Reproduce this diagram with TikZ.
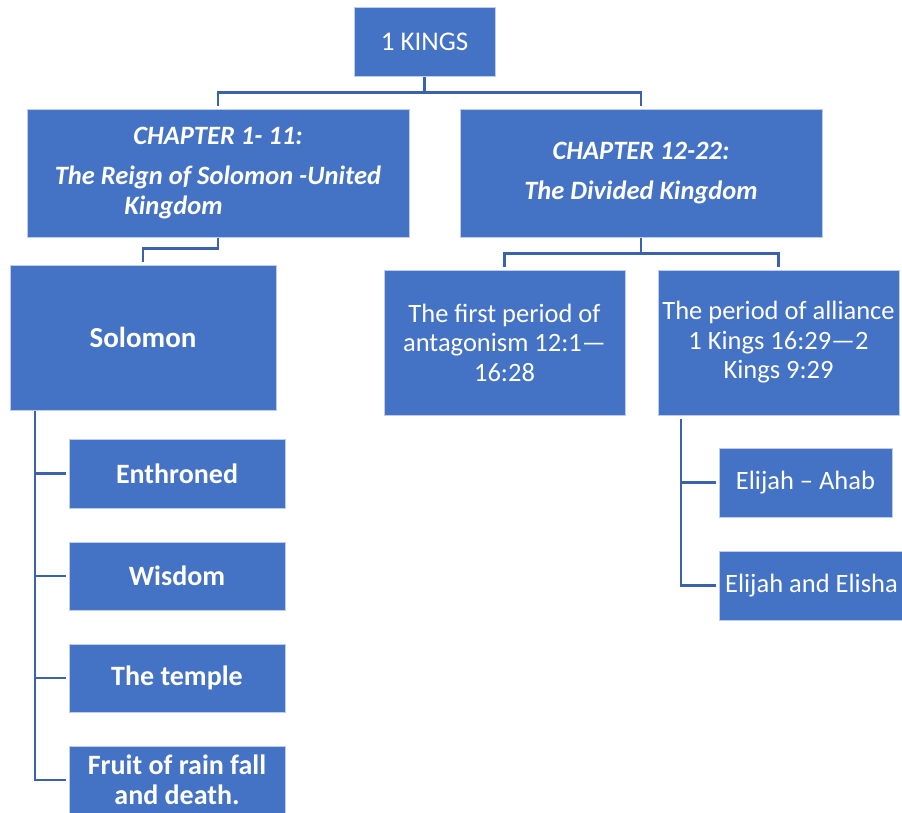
\documentclass[tikz,border=0pt]{standalone}
\usepackage{fontspec}
\setmainfont{Carlito}
\definecolor{boxblue}{HTML}{4472C4}
\definecolor{linkblue}{HTML}{3B63AC}
\tikzset{
  bx/.style={fill=boxblue, draw=boxblue!35!white, line width=0.8pt, inner sep=0pt,
    text=white, align=center, anchor=center},
  reg/.style={font=\fontsize{26.5}{29.5}\selectfont},
  bld/.style={font=\fontsize{28}{30}\selectfont\bfseries},
  chap/.style={font=\fontsize{26.5}{30}\selectfont\bfseries\itshape},
  link/.style={draw=linkblue, line width=2.6pt}
}
\begin{document}
\begin{tikzpicture}[x=1pt, y=-1pt]
\clip (0,0) rectangle (902,812);
\fill[white] (0,0) rectangle (902,812);

\node[bx, font=\fontsize{27}{30}\selectfont, minimum width=141pt, minimum height=69pt] (kings) at (424.5,41.5) {1 KINGS};
\node[bx, chap, minimum width=382pt, minimum height=128pt] (ch1) at (218,173)
  {CHAPTER 1- 11:\\[10pt]The Reign of Solomon -United\\\mbox{Kingdom\kern89pt}};
\node[bx, chap, minimum width=362pt, minimum height=128pt] (ch2) at (641,173)
  {CHAPTER 12-22:\\[10pt]The Divided Kingdom};
\node[bx, font=\fontsize{29}{32}\selectfont\bfseries, minimum width=266pt, minimum height=145pt] (sol) at (143,337.5) {Solomon};
\node[bx, reg, minimum width=241pt, minimum height=145pt] (first) at (504.5,342.5)
  {The first period of\\antagonism 12:1—\\16:28};
\node[bx, reg, minimum width=241pt, minimum height=145pt] (alli) at (778.5,342.5)
  {The period of alliance\\1 Kings 16:29—2\\Kings 9:29};
\node[bx, bld, minimum width=216pt, minimum height=69pt] (ent) at (177,473.5) {Enthroned};
\node[bx, bld, minimum width=216pt, minimum height=68pt] (wis) at (177,576) {Wisdom};
\node[bx, bld, minimum width=216pt, minimum height=68pt] (tem) at (177,678) {The temple};
\node[bx, bld, minimum width=216pt, minimum height=68pt] (fru) at (177,780) {Fruit of rain fall\\and death.};
\node[bx, reg, minimum width=173pt, minimum height=69pt] (ahab) at (805.5,482.5) {Elijah – Ahab};
\node[bx, reg, minimum width=185pt, minimum height=69pt] (elisha) at (811.5,585.5) {Elijah and Elisha};

\draw[link, shorten >=3pt, shorten <=1pt] (kings.south) -- ++(0,16) -| (ch1.north);
\draw[link, shorten >=3pt, shorten <=1pt] (kings.south) -- ++(0,16) -| (ch2.north);
\draw[link, shorten >=3pt, shorten <=1pt] (ch1.south) -- ++(0,11) -| (sol.north);
\draw[link, shorten >=3pt, shorten <=1pt] (ch2.south) -- ++(0,16) -| (first.north);
\draw[link, shorten >=3pt, shorten <=1pt] (ch2.south) -- ++(0,16) -| (alli.north);

\coordinate (st) at (35,411);
\draw[link, shorten >=3pt] (st) |- (ent.west);
\draw[link, shorten >=3pt] (st) |- (wis.west);
\draw[link, shorten >=3pt] (st) |- (tem.west);
\draw[link, shorten >=3pt] (st) |- (fru.west);

\coordinate (at) at (681,419);
\draw[link, shorten >=3pt] (at) |- (ahab.west);
\draw[link, shorten >=3pt] (at) |- (elisha.west);
\end{tikzpicture}
\end{document}
